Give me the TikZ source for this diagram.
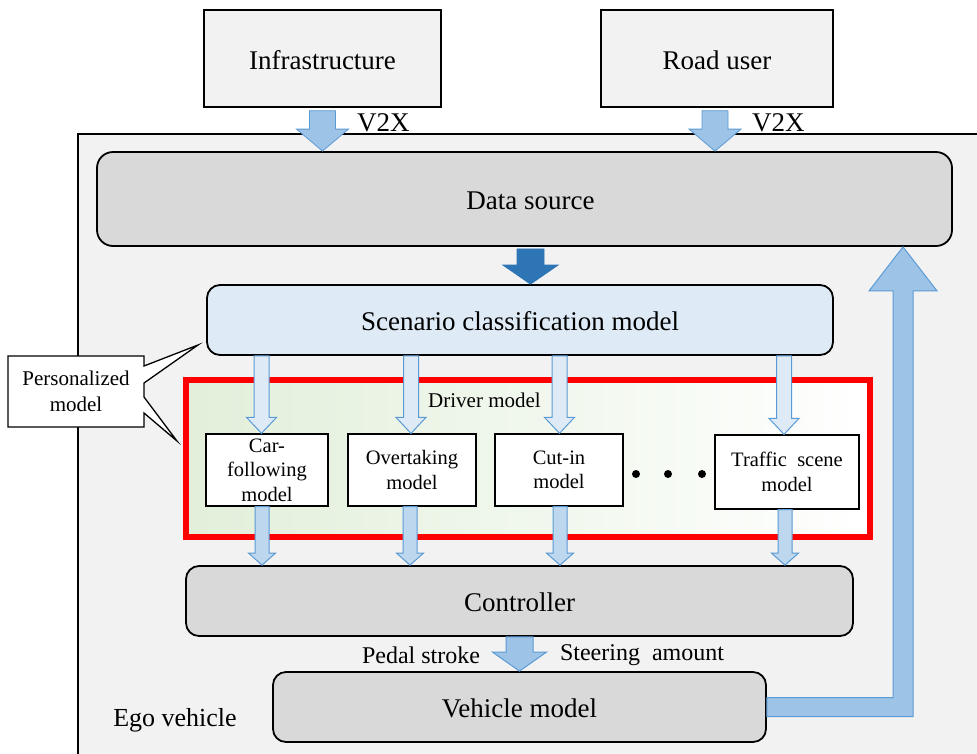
\documentclass[tikz,border=0pt]{standalone}
\usepackage{fontspec}
\setmainfont{Liberation Serif}
\usetikzlibrary{calc}
\definecolor{lgray}{HTML}{F2F2F2}
\definecolor{mgray}{HTML}{D9D9D9}
\definecolor{lblue}{HTML}{DEEBF7}
\definecolor{ablue}{HTML}{BDD7EE}
\definecolor{mblue}{HTML}{9DC3E6}
\definecolor{bblue}{HTML}{5B9BD5}
\definecolor{dblue}{HTML}{2E75B6}
\definecolor{lgreen}{HTML}{E2EFDA}
\newcommand\bigf{\fontsize{27}{32}\selectfont}
\newcommand\midf{\fontsize{24}{28}\selectfont}
\newcommand\smf{\fontsize{20.5}{24.5}\selectfont}
% vertical block arrow pointing down: style, top point (y used), tip point, half shaft, half head, head length
\newcommand\blkdown[6]{\path[#1] let \p1=(#2), \p2=(#3) in
  (\x2-#4,\y1) -- (\x2+#4,\y1) -- (\x2+#4,\y2+#6) -- (\x2+#5,\y2+#6) -- (\x2,\y2)
  -- (\x2-#5,\y2+#6) -- (\x2-#4,\y2+#6) -- cycle;}
\begin{document}
\begin{tikzpicture}[x=1pt,y=-1pt,
  topbox/.style={draw=black, line width=1.3pt, fill=lgray, inner sep=0pt, font=\bigf, text height=21.5pt, text depth=0pt},
  graybox/.style={draw=black, line width=1.8pt, fill=mgray, rounded corners=13pt, inner sep=0pt, font=\bigf, text height=21.5pt, text depth=0pt},
  bluebox/.style={draw=black, line width=1.8pt, fill=lblue, rounded corners=13pt, inner sep=0pt, font=\bigf, text height=20pt, text depth=0pt},
  modelbox/.style={draw=black, line width=1.3pt, fill=white, inner sep=0pt, align=center, font=\smf},
  v2xarrow/.style={fill=mblue, draw=bblue, line width=0.8pt},
  darkarrow/.style={fill=dblue, draw=dblue, line width=0.8pt},
  inarrow/.style={fill=lblue, draw=bblue, line width=1pt},
  outarrow/.style={fill=ablue, draw=bblue, line width=1pt},
  bigarrow/.style={fill=mblue, draw=bblue, line width=1pt},
  lbl/.style={inner sep=0pt, font=\bigf}
]
\useasboundingbox (0,0) rectangle (977,753);
\clip (0,0) rectangle (977,753);
\fill[white] (0,0) rectangle (977,753);
% ego vehicle area
\draw[fill=lgray, line width=1.3pt] (78,134) rectangle (1000,790);
\node[lbl, font=\fontsize{26}{30}\selectfont] (ego) at (175,720) {Ego vehicle};

% top boxes
\node[topbox, minimum width=237pt, minimum height=97pt] (infra) at (322.5,58.5) {Infrastructure};
\node[topbox, minimum width=232pt, minimum height=97pt] (road) at (717,58.5) {Road user};

% data source
\node[graybox, rounded corners=16pt, minimum width=855pt, minimum height=94pt] (data) at (524.5,199) {\hspace*{12pt}Data source};

% scenario classification
\node[bluebox, minimum width=626pt, minimum height=70pt] (scen) at (520,320) {Scenario classification model};

% driver model frame
\node[draw=red, line width=6pt, left color=lgreen, right color=white, minimum width=684pt, minimum height=157pt, inner sep=0pt] (driver) at (528,458.5) {};
\node[inner sep=0pt, font=\fontsize{21}{25}\selectfont] (drvlbl) at (484.5,400) {Driver model};

% model boxes
\node[modelbox, minimum width=122pt, minimum height=72pt] (car) at (267,470) {Car-\\following\\model};
\node[modelbox, minimum width=128pt, minimum height=72pt] (over) at (412,470) {Overtaking\\model};
\node[modelbox, minimum width=128pt, minimum height=72pt] (cut) at (559,470) {Cut-in\\model};
\node[modelbox, minimum width=144pt, minimum height=74pt] (traffic) at (787,472) {Traffic\ \ scene\\model};
\fill (636,474) circle[radius=4pt];
\fill (668,474) circle[radius=4pt];
\fill (702,474) circle[radius=4pt];

% controller and vehicle model
\node[graybox, minimum width=667pt, minimum height=70pt] (ctrl) at (519.5,601) {Controller};
\node[graybox, minimum width=493pt, minimum height=70pt] (veh) at (519.5,707) {Vehicle model};

% labels
\node[lbl, anchor=west] (v2xa) at (357,123) {V2X};
\node[lbl, anchor=west] (v2xb) at (752,123) {V2X};
\node[inner sep=0pt, font=\midf] (pedal) at (421,655) {Pedal\ stroke};
\node[inner sep=0pt, font=\midf] (steer) at (642,655) {Steering\ \ amount};

% personalized model callout
\draw[fill=white, line width=1.3pt, line join=miter] (8,356) -- (144,356) -- (144,366) -- (198,345)
  -- (144,383) -- (144,397) -- (177,441) -- (144,413) -- (144,427) -- (8,427) -- cycle;
\node[inner sep=0pt, align=center, font=\fontsize{21}{25.5}\selectfont] (pers) at (76,391.5) {Personalized\\model};

% arrows
\blkdown{v2xarrow}{$(infra.south)+(0,3)$}{infra.south |- data.north}{13pt}{26pt}{22pt}
\blkdown{v2xarrow}{$(road.south)+(0,3)$}{$(road.south |- data.north)+(-2,0)$}{13pt}{26pt}{22pt}
\blkdown{darkarrow}{$(data.south)+(0,2)$}{$(scen.north)+(10.5,0)$}{13.5pt}{27.5pt}{19pt}

\blkdown{inarrow}{scen.south}{$(car.north)+(-5.5,0)$}{7.5pt}{15pt}{16pt}
\blkdown{inarrow}{scen.south}{$(over.north)+(-1,0)$}{7.5pt}{15pt}{16pt}
\blkdown{inarrow}{scen.south}{$(cut.north)+(0.5,0)$}{7.5pt}{15pt}{16pt}
\blkdown{inarrow}{scen.south}{$(traffic.north)+(-3,0)$}{7.5pt}{15pt}{16pt}

\blkdown{outarrow}{car.south}{$(car.south |- ctrl.north)+(-5,0)$}{7pt}{13.5pt}{12pt}
\blkdown{outarrow}{over.south}{$(over.south |- ctrl.north)+(-2,0)$}{7pt}{13.5pt}{12pt}
\blkdown{outarrow}{cut.south}{$(cut.south |- ctrl.north)+(1,0)$}{7pt}{13.5pt}{12pt}
\blkdown{outarrow}{traffic.south}{$(traffic.south |- ctrl.north)+(-2,0)$}{7pt}{13.5pt}{12pt}

\blkdown{bigarrow}{ctrl.south}{veh.north}{13.5pt}{27pt}{19pt}

% feedback arrow
\coordinate (fbx) at (903,0);
\coordinate (fbtip) at (data.south -| fbx);
\path[bigarrow] let \p1=(veh.east), \p2=(fbtip) in
  (\x1,\y1+9.5pt) -- (\x2-10pt,\y1+9.5pt) -- (\x2-10pt,\y2-44pt) -- (\x2-34pt,\y2-44pt) -- (\x2,\y2)
  -- (\x2+34pt,\y2-44pt) -- (\x2+10pt,\y2-44pt) -- (\x2+10pt,\y1-9.5pt) -- (\x1,\y1-9.5pt) -- cycle;
\end{tikzpicture}
\end{document}
